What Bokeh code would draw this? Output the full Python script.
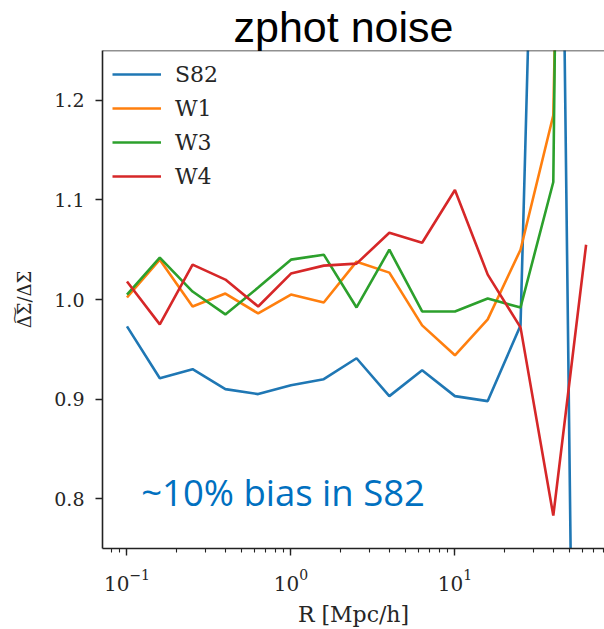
from bokeh.plotting import figure
from bokeh.models import Range1d, FixedTicker, PrintfTickFormatter, Label, Span
from bokeh.embed import file_html
from bokeh.resources import INLINE

# ---- data ----
R = [0.1, 0.1585, 0.2512, 0.3981, 0.631, 1.0, 1.585, 2.512, 3.981, 6.31, 10.0, 15.85, 25.12, 39.81, 63.1]
S82 = [0.973, 0.921, 0.930, 0.910, 0.905, 0.914, 0.920, 0.941, 0.903, 0.929, 0.903, 0.898, 0.974, 2.2, -0.55]
W1 = [1.002, 1.040, 0.993, 1.006, 0.986, 1.005, 0.997, 1.038, 1.027, 0.974, 0.944, 0.980, 1.050, 1.185, 2.8]
W3 = [1.005, 1.042, 1.008, 0.985, 1.012, 1.040, 1.045, 0.992, 1.050, 0.988, 0.988, 1.001, 0.992, 1.118, 4.0]
W4 = [1.018, 0.975, 1.035, 1.020, 0.993, 1.026, 1.034, 1.036, 1.067, 1.057, 1.110, 1.025, 0.972, 0.783, 1.055]
series_names = ["S82", "W1", "W3", "W4"]
series_colors = ["#1f77b4", "#ff7f0e", "#2ca02c", "#d62728"]
y_ticks = [0.8, 0.9, 1.0, 1.1, 1.2]
title_text = "zphot noise"
note_text = "~10% bias in S82"
x_label = "R [Mpc/h]"
y_label = "\u0394\u0360\u03a3/\u0394\u03a3"

X_START, X_END = 0.0709, 81.7
Y_START, Y_END = 0.75, 1.25

p = figure(width=604, height=629, x_axis_type="log",
           x_range=Range1d(X_START, X_END), y_range=Range1d(Y_START, Y_END),
           output_backend="svg", toolbar_location=None,
           min_border_left=102, min_border_right=0, min_border_top=50, min_border_bottom=78)

p.background_fill_color = "white"
p.border_fill_color = "white"
p.outline_line_color = None
p.xgrid.visible = False
p.ygrid.visible = False

for name, ys, col in zip(series_names, [S82, W1, W3, W4], series_colors):
    p.line(R, ys, line_color=col, line_width=2.6, legend_label=name)

# title
p.title.text = title_text
p.title.text_font = "Liberation Sans"
p.title.text_font_size = "43px"
p.title.text_font_style = "normal"
p.title.text_color = "black"
p.title.align = "left"
p.title.offset = 131
p.title.vertical_align = "bottom"
p.title.standoff = 0

serif = "DejaVu Serif"
axcol = "#262626"

# y axis
p.yaxis.ticker = FixedTicker(ticks=y_ticks)
p.yaxis.formatter = PrintfTickFormatter(format="%.1f")
p.yaxis.minor_tick_line_color = None
p.yaxis.axis_label = y_label
p.yaxis.axis_label_standoff = 16

# x axis
p.xaxis.axis_label = x_label
p.xaxis.axis_label_standoff = 8

for ax in (p.xaxis, p.yaxis):
    ax.major_label_text_font = serif
    ax.major_label_text_font_size = "19px"
    ax.major_label_text_color = axcol
    ax.axis_label_text_font = serif
    ax.axis_label_text_font_size = "22px"
    ax.axis_label_text_font_style = "normal"
    ax.axis_label_text_color = axcol
    ax.axis_line_color = "#222222"
    ax.axis_line_width = 1.6
    ax.major_tick_line_color = "#222222"
    ax.major_tick_line_width = 1.4
    ax.major_tick_out = 7
    ax.major_tick_in = 0
    ax.major_label_standoff = 11
p.xaxis.major_label_text_font_size = "20px"
p.xaxis.major_label_standoff = 13
p.xaxis.minor_tick_line_color = "#222222"
p.xaxis.minor_tick_line_width = 1.1
p.xaxis.minor_tick_out = 4
p.xaxis.minor_tick_in = 0
p.yaxis.axis_label_text_font_size = "18px"

# top border line
p.add_layout(Span(location=Y_END, dimension="width", line_color="#222222", line_width=1.6))

# legend
lg = p.legend[0]
lg.location = "top_left"
lg.margin = 10
lg.padding = 8
lg.border_line_color = None
lg.background_fill_color = "white"
lg.background_fill_alpha = 1.0
lg.glyph_width = 49
lg.glyph_height = 28
lg.label_height = 28
lg.spacing = 6
lg.label_standoff = 14
lg.label_text_font = serif
lg.label_text_font_size = "22px"
lg.label_text_color = axcol

# annotation
note = Label(x=0.122, y=0.807, text=note_text, text_font="Open Sans",
             text_font_size="36.5px", text_color="#0070C0", text_baseline="alphabetic")
p.add_layout(note)

open("out.html", "w").write(file_html(p, INLINE))
